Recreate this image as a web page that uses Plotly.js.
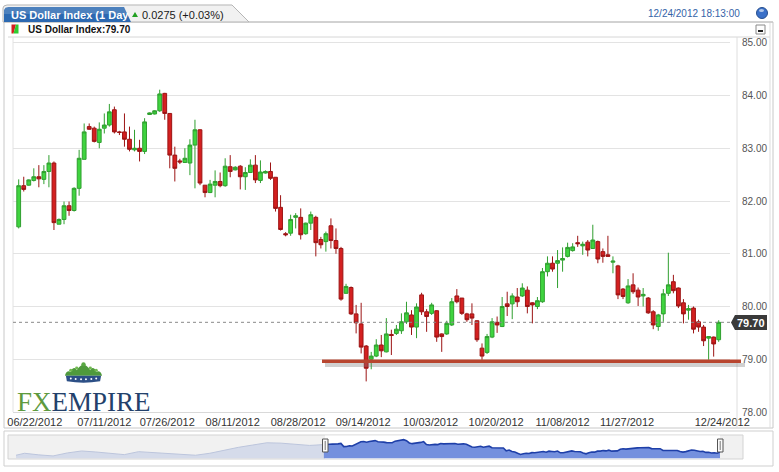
<!DOCTYPE html>
<html><head><meta charset="utf-8">
<script src="https://cdn.plot.ly/plotly-3.0.1.min.js"></script>
<style>html,body{margin:0;padding:0;background:#fff;}#chart{width:779px;height:472px;}</style>
</head><body><div id="chart"></div>
<script>
// ---- data ----
const open = [81.51,82.29,82.30,82.39,82.46,82.41,82.56,82.72,81.56,81.65,
81.91,81.82,82.24,82.79,83.41,83.38,83.11,83.38,83.44,83.73,
83.31,83.31,83.17,82.97,83.00,82.94,83.64,83.65,83.71,84.04,
83.66,82.87,82.76,82.73,82.72,83.06,83.35,82.30,82.16,82.30,
82.37,82.29,82.65,82.59,82.66,82.46,82.54,82.68,82.39,82.53,
82.56,82.45,81.88,81.38,81.39,81.69,81.69,81.38,81.58,81.69,
81.27,81.23,81.53,81.25,81.10,80.25,80.36,79.86,79.67,79.25,
79.00,79.06,79.27,79.14,79.47,79.49,79.54,79.71,79.84,79.61,
80.22,79.90,79.87,79.92,79.48,79.48,79.65,80.20,80.16,79.86,
79.86,79.73,79.21,79.13,79.42,79.70,79.62,80.05,80.05,80.18,
80.20,80.31,80.07,80.00,80.09,80.66,80.82,80.82,80.88,80.95,
81.06,81.21,81.15,81.22,81.10,81.23,81.04,80.98,80.84,80.77,
80.33,80.07,80.41,80.31,80.20,80.16,79.90,79.62,79.86,80.25,
80.47,80.35,80.07,79.93,79.97,79.71,79.61,79.40,79.42,79.37];
const high = [82.41,82.46,82.41,82.62,82.68,82.68,82.87,82.75,81.67,81.99,
81.99,82.26,82.97,83.47,83.47,83.41,83.49,83.66,83.84,83.79,
83.33,83.66,83.41,83.35,83.16,83.57,83.68,83.72,84.11,84.05,
83.66,83.03,82.80,83.00,83.17,83.54,83.36,82.30,82.40,82.58,
82.54,82.81,82.87,82.66,82.68,82.64,82.79,82.87,82.77,82.58,
82.73,82.45,82.11,81.41,81.74,81.77,81.86,81.59,81.80,81.72,
81.32,81.42,81.67,81.48,81.13,80.43,80.38,80.03,80.07,79.27,
79.14,79.38,79.46,79.78,79.56,79.65,79.87,80.09,79.93,80.06,
80.26,79.95,80.07,79.93,79.49,79.73,80.16,80.33,80.16,79.88,
80.06,79.74,79.30,79.48,79.78,79.81,80.18,80.28,80.25,80.35,
80.44,80.38,80.08,80.18,80.73,80.95,80.95,81.07,81.12,81.21,
81.20,81.34,81.23,81.26,81.55,81.25,81.10,81.34,80.95,80.79,
80.35,80.52,80.63,80.36,80.35,80.18,79.93,79.86,80.33,81.02,
80.60,80.36,80.14,80.03,80.00,79.75,79.65,79.44,79.43,79.74];
const low = [81.48,82.18,82.29,82.37,82.26,82.32,82.26,81.45,81.56,81.56,
81.72,81.80,82.10,82.79,83.35,83.11,83.00,83.28,83.41,83.28,
83.25,83.03,82.94,82.94,82.75,82.89,83.63,83.64,83.69,83.54,
82.62,82.37,82.70,82.72,82.49,82.24,82.30,82.07,82.15,82.07,
82.26,82.27,82.45,82.58,82.22,82.21,82.53,82.34,82.34,82.52,
82.40,81.80,81.44,81.33,81.34,81.48,81.27,81.36,81.45,80.95,
81.10,81.04,81.10,81.00,80.11,80.24,79.84,79.49,79.11,78.58,
78.81,79.04,79.04,79.13,79.08,79.46,79.48,79.67,79.46,79.40,
79.84,79.52,79.84,79.33,79.14,79.46,79.63,80.06,79.84,79.71,
79.65,79.33,78.99,79.10,79.40,79.50,79.61,79.82,79.76,79.99,
80.18,79.87,79.68,79.95,80.07,80.57,80.66,80.35,80.66,80.93,
81.04,81.13,80.98,80.95,81.09,80.82,80.83,80.95,80.63,80.14,
80.14,80.05,80.24,80.01,80.00,79.86,79.57,79.54,79.71,80.20,
80.25,79.97,79.68,79.75,79.49,79.52,79.25,78.99,79.05,79.33];
const close = [82.29,82.22,82.40,82.46,82.42,82.56,82.72,81.59,81.65,81.91,
81.82,82.24,82.81,83.31,83.36,83.13,83.36,83.44,83.69,83.31,
83.30,83.17,82.98,83.00,82.94,83.50,83.67,83.71,84.03,83.66,
82.87,82.62,82.74,82.81,83.06,83.35,82.34,82.16,82.32,82.37,
82.29,82.66,82.56,82.64,82.46,82.54,82.68,82.40,82.55,82.56,
82.43,81.86,81.46,81.36,81.65,81.72,81.36,81.58,81.74,81.21,
81.17,81.38,81.25,81.10,80.14,80.38,79.86,79.69,79.23,78.83,
79.06,79.27,79.16,79.48,79.45,79.57,79.71,79.88,79.61,79.99,
79.90,79.81,80.03,79.42,79.43,79.68,80.09,80.09,79.87,79.75,
79.78,79.37,79.06,79.43,79.71,79.65,80.00,80.00,80.20,80.09,
80.35,80.00,80.03,80.11,80.66,80.82,80.71,80.87,80.91,81.12,
81.13,81.19,81.18,81.07,81.26,80.90,80.95,80.95,80.86,80.22,
80.19,80.39,80.28,80.18,80.23,79.88,79.65,79.84,80.24,80.41,
80.30,80.01,79.86,79.96,79.57,79.61,79.35,79.43,79.29,79.70];

const tickLabels = ["06/22/2012","07/11/2012","07/26/2012","08/11/2012","08/28/2012","09/14/2012",
                    "10/03/2012","10/20/2012","11/08/2012","11/27/2012","12/24/2012"];
const tickPos = [3.2,17,29.5,42.5,55.5,68.4,81.8,94.8,108,120.8,139.7];
const yTicks = [78,79,80,81,82,83,84,85];
const lastPrice = 79.70;
const supportLevel = 78.96;
const titleText = "US Dollar Index (1 Day";
const changeText = "0.0275 (+0.03%)";
const stampText = "12/24/2012 18:13:00";
const legendText = "US Dollar Index:79.70";

// navigator history before the shown window (bar offsets and values)
const navHistX = [-108,-105,-100,-95,-90,-85,-80,-75,-70,-65,-60,-55,-50,-45,-40,-35,-30,-25,-20,-15,-10,-5];
const navHist  = [78.57,79.26,78.70,78.33,79.37,80.06,79.71,79.26,78.78,79.82,79.48,79.26,79.02,78.57,79.26,80.40,81.33,82.13,82.93,82.80,82.36,82.00];

// ---- layout helpers (pixel -> paper) ----
const PL=6, PT=37, PW=742, PH=422;
const X = x => (x-PL)/PW;
const Y = y => (PT+PH-y)/PH;
const pth = pts => pts.map((p,i)=>(i?'L':'M')+X(p[0]).toFixed(5)+','+Y(p[1]).toFixed(5)).join(' ')+' Z';

const n = close.length;
const idx = Array.from({length:n},(_,i)=>i);

const traces = [
  {type:'candlestick', x:idx, open:open, high:high, low:low, close:close,
   xaxis:'x', yaxis:'y', whiskerwidth:0, hoverinfo:'skip',
   increasing:{line:{color:'#2f9f2f',width:1}, fillcolor:'#3fd43f'},
   decreasing:{line:{color:'#9c1414',width:1}, fillcolor:'#d42020'}},
  {type:'scatter', mode:'lines', x:navHistX.concat([0]), y:navHist.concat([close[0]]),
   xaxis:'x2', yaxis:'y2', fill:'tozeroy', fillcolor:'#d5dbea', line:{color:'#bcc5dc',width:1}, hoverinfo:'skip'},
  {type:'scatter', mode:'lines', x:idx, y:close,
   xaxis:'x2', yaxis:'y2', fill:'tozeroy', fillcolor:'#7490de', line:{color:'#1e3fa8',width:1.6}, hoverinfo:'skip'}
];

const crownSvg = '<svg xmlns="http://www.w3.org/2000/svg" width="44" height="24" viewBox="0 0 44 24">'+
 '<path d="M3 15 C4 10 7 9 9 11 C10 6 14 5 15 9 C17 5 20 4 22 2 C24 4 27 5 29 9 C30 5 34 6 35 11 C37 9 40 10 41 15 Z" fill="#4f9a3c"/>'+
 '<circle cx="22" cy="2.5" r="2.2" fill="#5aa843"/><circle cx="9" cy="9" r="1.7" fill="#6fb84f"/><circle cx="35" cy="9" r="1.7" fill="#6fb84f"/>'+
 '<circle cx="15" cy="6.5" r="1.6" fill="#6fb84f"/><circle cx="29" cy="6.5" r="1.6" fill="#6fb84f"/>'+
 '<path d="M4 15 L40 15 L39 21 Q22 24 5 21 Z" fill="#2c4f86"/>'+
 '<g fill="#ffffff"><circle cx="9" cy="18" r="1"/><circle cx="14" cy="18.5" r="1"/><circle cx="19.5" cy="18.8" r="1"/><circle cx="24.5" cy="18.8" r="1"/><circle cx="30" cy="18.5" r="1"/><circle cx="35" cy="18" r="1"/></g></svg>';

const shapes = [
  // panels
  {type:'rect', xref:'paper', yref:'paper', x0:X(4), x1:X(773), y0:Y(428), y1:Y(22), line:{color:'#c8c8c8',width:1}, layer:'below'},
  {type:'rect', xref:'paper', yref:'paper', x0:X(4), x1:X(773), y0:Y(466), y1:Y(431), line:{color:'#cfcfcf',width:1}, layer:'below'},
  {type:'rect', xref:'paper', yref:'paper', x0:X(8), x1:X(743), y0:Y(459), y1:Y(435), fillcolor:'#f1f1f1', line:{color:'#d3d3d3',width:1}, layer:'below'},
  {type:'rect', xref:'paper', yref:'paper', x0:X(325), x1:X(720), y0:Y(458.5), y1:Y(435.5), fillcolor:'#ffffff', line:{width:0}, layer:'below'},
  {type:'line', xref:'paper', yref:'paper', x0:X(8), x1:X(770), y0:Y(37), y1:Y(37), line:{color:'#d6d6d6',width:1}},
  {type:'line', xref:'paper', yref:'paper', x0:X(13), x1:X(13), y0:Y(37), y1:Y(412), line:{color:'#e2e2e2',width:1}},
  {type:'line', xref:'paper', yref:'paper', x0:X(737), x1:X(737), y0:Y(37), y1:Y(428), line:{color:'#dedede',width:1}},
  {type:'line', xref:'paper', yref:'paper', x0:X(770), x1:X(770), y0:Y(22), y1:Y(428), line:{color:'#dedede',width:1}},
  // last price dotted line
  {type:'line', xref:'paper', yref:'y', x0:X(13), x1:X(730), y0:lastPrice, y1:lastPrice, line:{color:'#8a8a8a',width:1,dash:'dot'}},
  // support line with shadow
  {type:'line', xref:'paper', yref:'y', x0:X(325), x1:X(745), y0:supportLevel-0.07, y1:supportLevel-0.07, line:{color:'rgba(120,120,120,0.35)',width:4}},
  {type:'line', xref:'paper', yref:'y', x0:X(322), x1:X(741), y0:supportLevel, y1:supportLevel, line:{color:'#b8452f',width:3.5}},
  // last price badge
  {type:'path', xref:'paper', yref:'paper', path:pth([[731,322.5],[735,315],[767,315],[767,330],[735,330]]), fillcolor:'#3a3a3a', line:{width:0}},
  // navigator handles
  {type:'rect', xref:'paper', yref:'paper', x0:X(322.5), x1:X(328), y0:Y(452), y1:Y(439), fillcolor:'#fafafa', line:{color:'#555',width:1}},
  {type:'line', xref:'paper', yref:'paper', x0:X(325.2), x1:X(325.2), y0:Y(450), y1:Y(441), line:{color:'#777',width:1}},
  {type:'rect', xref:'paper', yref:'paper', x0:X(717.5), x1:X(723), y0:Y(452), y1:Y(439), fillcolor:'#fafafa', line:{color:'#555',width:1}},
  {type:'line', xref:'paper', yref:'paper', x0:X(720.2), x1:X(720.2), y0:Y(450), y1:Y(441), line:{color:'#777',width:1}},
  // header tab
  {type:'line', xref:'paper', yref:'paper', x0:X(249), x1:X(773), y0:Y(22), y1:Y(22), line:{color:'#c0c0c0',width:1}},
  {type:'path', xref:'paper', yref:'paper', path:pth([[3,22],[3,8],[4,6],[7,5],[232,5],[249,22]]), fillcolor:'#f1f1f1', line:{color:'#b5b5b5',width:1}},
  {type:'path', xref:'paper', yref:'paper', path:pth([[4,22],[4,10],[5.5,7.8],[8.5,7],[124,7],[131,22]]), fillcolor:'#2c69b1', line:{width:0}},
  {type:'path', xref:'paper', yref:'paper', path:pth([[4,14],[4,10],[5.5,7.8],[8.5,7],[124,7],[127.5,14]]), fillcolor:'rgba(255,255,255,0.16)', line:{width:0}},
  {type:'path', xref:'paper', yref:'paper', path:pth([[132,17],[135,12],[138,17]]), fillcolor:'#22a022', line:{width:0}},
  // legend icon
  {type:'path', xref:'paper', yref:'paper', path:pth([[11.5,24.5],[16,24.5],[13.5,33.5],[11.5,33.5]]), fillcolor:'#d42020', line:{width:0}},
  {type:'path', xref:'paper', yref:'paper', path:pth([[16,24.5],[18.5,24.5],[18.5,33.5],[13.5,33.5]]), fillcolor:'#2fcc2f', line:{width:0}},
  // minimize button
  {type:'rect', xref:'paper', yref:'paper', x0:X(756), x1:X(765), y0:Y(34), y1:Y(25), fillcolor:'#fdfdfd', line:{color:'#8a8a8a',width:1}},
  {type:'line', xref:'paper', yref:'paper', x0:X(758), x1:X(763), y0:Y(31), y1:Y(31), line:{color:'#222',width:2}},
  // status dot
  {type:'circle', xref:'paper', yref:'paper', x0:X(756.5), x1:X(767.5), y0:Y(18.5), y1:Y(7.5), fillcolor:'#3a70c8', line:{color:'#274f8f',width:1}},
  {type:'circle', xref:'paper', yref:'paper', x0:X(759), x1:X(764), y0:Y(12), y1:Y(9), fillcolor:'rgba(255,255,255,0.6)', line:{width:0}}
];

const sans = 'Liberation Sans, Arial, sans-serif';
const annotations = [
  {xref:'paper', yref:'paper', x:X(9), y:Y(15), xanchor:'left', yanchor:'middle', showarrow:false,
   text:'<b>'+titleText+'</b>', font:{family:sans,size:11,color:'#ffffff'}},
  {xref:'paper', yref:'paper', x:X(140), y:Y(15), xanchor:'left', yanchor:'middle', showarrow:false,
   text:changeText, font:{family:sans,size:11,color:'#1a1a1a'}},
  {xref:'paper', yref:'paper', x:X(742), y:Y(13), xanchor:'right', yanchor:'middle', showarrow:false,
   text:stampText, font:{family:sans,size:10,color:'#3563a8'}},
  {xref:'paper', yref:'paper', x:X(26), y:Y(29.5), xanchor:'left', yanchor:'middle', showarrow:false,
   text:'<b>'+legendText+'</b>', font:{family:sans,size:10,color:'#111'}},
  {xref:'paper', yref:'paper', x:X(751), y:Y(322.5), xanchor:'center', yanchor:'middle', showarrow:false,
   text:'<b>'+lastPrice.toFixed(2)+'</b>', font:{family:sans,size:11,color:'#ffffff'}},
  {xref:'paper', yref:'paper', x:X(84), y:Y(402), xanchor:'center', yanchor:'middle', showarrow:false,
   text:'<span style="color:#5e9a3e">FX</span>EMPIRE', font:{family:'Liberation Serif, Times New Roman, serif',size:27,color:'#23416b'}}
];

const layout = {
  width:779, height:472,
  margin:{l:PL, r:779-(PL+PW), t:PT, b:472-(PT+PH), pad:0},
  paper_bgcolor:'#ffffff', plot_bgcolor:'rgba(0,0,0,0)',
  showlegend:false, boxgap:0.25, boxgroupgap:0,
  xaxis:{domain:[X(13),X(730)], range:[-(18.7-13)/5.036, 139+(730-718.7)/5.036], anchor:'y',
    tickmode:'array', tickvals:tickPos, ticktext:tickLabels, tickfont:{family:sans,size:11,color:'#333'},
    showgrid:false, zeroline:false, showline:true, linecolor:'#d9d9d9', ticks:'', rangeslider:{visible:false}, fixedrange:true},
  yaxis:{domain:[Y(412),Y(37)], range:[78, 78+(412-37)/52.75], anchor:'x', side:'right',
    tickmode:'array', tickvals:yTicks, ticktext:yTicks.map(v=>v.toFixed(2)), tickfont:{family:sans,size:10,color:'#555'},
    ticks:'outside', ticklen:9, tickcolor:'rgba(0,0,0,0)',
    showgrid:true, gridcolor:'#e3e3e3', gridwidth:1, zeroline:false, showline:false, fixedrange:true},
  xaxis2:{domain:[X(8),X(743)], range:[-108-8/2.85, 139+23/2.85], anchor:'y2', visible:false, fixedrange:true},
  yaxis2:{domain:[Y(458.3),Y(436)], range:[77.5,85.3], anchor:'x2', visible:false, fixedrange:true},
  shapes:shapes, annotations:annotations,
  images:[{source:'data:image/svg+xml;charset=utf-8,'+encodeURIComponent(crownSvg), xref:'paper', yref:'paper',
    x:X(62), y:Y(362), sizex:43/PW, sizey:22/PH, xanchor:'left', yanchor:'top', sizing:'stretch', layer:'above'}]
};

Plotly.newPlot('chart', traces, layout, {displayModeBar:false, staticPlot:true});
</script></body></html>
